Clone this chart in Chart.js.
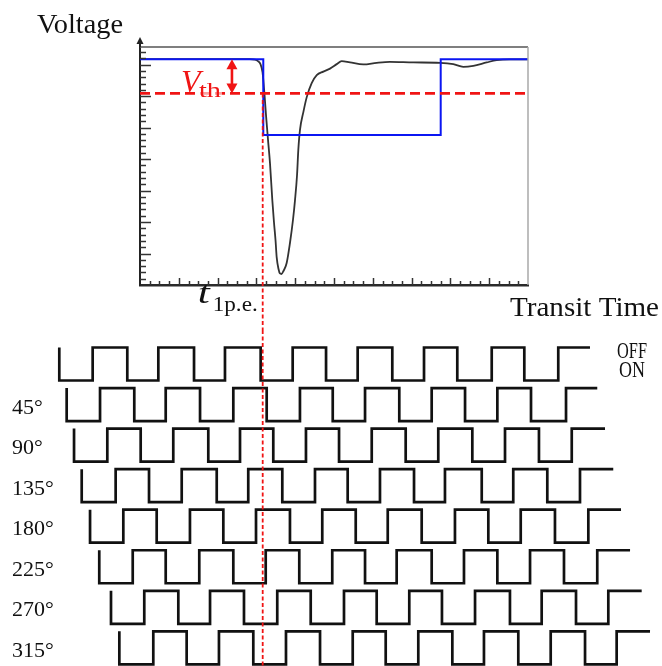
<!DOCTYPE html>
<html>
<head>
<meta charset="utf-8">
<script src="https://cdn.jsdelivr.net/npm/chart.js@4.4.1/dist/chart.umd.min.js"></script>
<style>
  html, body { margin: 0; padding: 0; background: #fff; }
  #wrap { position: relative; width: 662px; height: 666px; overflow: hidden; }
  #pulse { position: absolute; left: 0; top: 0; }
  #waves { position: absolute; left: 0; top: 330px; }
</style>
</head>
<body>
<div id="wrap">
  <canvas id="pulse" width="662" height="330"></canvas>
  <canvas id="waves" width="662" height="336"></canvas>
</div>
<script>
// ---------- Upper panel: single photo-electron pulse vs. transit time ----------
const T_MIN = 0, T_MAX = 40;          // transit-time axis (one minor tick per unit)
const V_MIN = 0, V_MAX = 37.8;        // voltage axis (one minor tick per unit)

const signalTime = [0, 11.34, 11.86, 12.16, 12.42, 12.63, 12.73, 12.84, 12.99, 13.20, 13.40, 13.64, 13.81, 13.97, 14.09, 14.28, 14.43, 14.59, 14.79, 15.12, 15.46, 15.77, 15.98, 16.19, 16.32, 16.49, 16.84, 17.19, 17.70, 18.22, 18.90, 19.59, 20.28, 20.79, 21.65, 23.02, 24.40, 25.77, 28.18, 30.93, 32.30, 33.33, 34.36, 35.74, 36.77, 38.14, 40.0];
const signalVolt = [35.87, 35.87, 35.79, 35.56, 35.08, 33.81, 32.22, 30.16, 26.98, 23.02, 19.37, 13.49, 10.0, 7.14, 4.44, 2.54, 1.83, 1.75, 2.22, 3.49, 6.67, 10.32, 13.49, 17.46, 21.43, 24.60, 27.46, 29.84, 32.06, 33.33, 33.89, 34.37, 35.08, 35.56, 35.35, 35.03, 35.29, 35.44, 35.35, 35.29, 35.08, 34.65, 34.81, 35.35, 35.71, 35.83, 35.83];

const gateTime = [0, 12.71, 12.71, 31.0, 31.0, 40];
const gateVolt = [35.87, 35.87, 23.81, 23.81, 35.87, 35.87];

const V_BASE = 35.87;   // baseline level
const V_TH = 30.43;     // discriminator threshold
const T_1PE = 12.65;    // threshold crossing time t_1p.e.
const T_ARROW = 9.48;   // where the V_th span arrow sits

// ---------- Lower panel: gating square waves at phase offsets ----------
const phaseLabels = ['', '45°', '90°', '135°', '180°', '225°', '270°', '315°'];
const levelLabels = ['OFF', 'ON'];
const waveStart = [-8.32, -7.56, -6.80, -6.01, -5.15, -4.20, -2.99, -2.13];
const waveEnd   = [46.39, 47.14, 47.94, 48.79, 49.59, 50.52, 51.72, 52.58];
const waveEdges = [
  [-4.88, -1.31, 1.89, 5.57, 8.76, 12.44, 15.74, 19.18, 22.44, 26.01, 29.28, 32.71, 36.26, 39.62, 43.12],
  [-4.12, -0.59, 2.65, 6.19, 9.62, 13.06, 16.49, 19.87, 23.20, 26.73, 30.07, 33.51, 36.84, 40.31, 43.92],
  [-3.37, 0.07, 3.43, 7.04, 10.31, 13.74, 17.11, 20.52, 23.89, 27.39, 30.75, 34.26, 37.63, 41.13, 44.51],
  [-2.51, 0.93, 4.30, 7.91, 11.16, 14.67, 18.04, 21.41, 24.74, 28.25, 31.44, 35.23, 38.48, 41.99, 45.36],
  [-1.72, 1.72, 5.15, 8.59, 11.96, 15.46, 18.79, 22.24, 25.54, 29.04, 32.47, 35.91, 39.25, 42.78, 46.22],
  [-0.75, 2.65, 6.11, 9.62, 12.96, 16.42, 19.82, 23.20, 26.46, 30.07, 33.40, 36.84, 40.21, 43.71, 47.14],
  [0.44, 3.95, 7.22, 10.72, 14.15, 17.60, 21.03, 24.40, 27.76, 31.13, 34.54, 38.14, 41.41, 44.95, 48.28],
  [1.37, 4.81, 8.14, 11.68, 15.05, 18.56, 21.93, 25.33, 28.69, 32.20, 35.46, 39.00, 42.34, 45.88, 49.14]
];
const WAVE_HIGH = 0.814;  // OFF level above each row's ON level (row i sits at -i)

// ---------- layout ----------
const W = 662;
const PLOT = { left: 140, top: 47, right: 528, bottom: 285 };
const TOP_H = 330, BOTTOM_H = 336;
const pxPerT = (PLOT.right - PLOT.left) / (T_MAX - T_MIN);
const WAVE_X_MIN = T_MIN - PLOT.left / pxPerT;
const WAVE_X_MAX = T_MAX + (W - PLOT.right) / pxPerT;
const WAVE_Y_MIN = -7.041, WAVE_Y_MAX = 1.245;

const RED = '#f01414';
const BLUE = '#0b16f2';
const SERIF = '"Liberation Serif", "DejaVu Serif", serif';

function drawText(ctx, str, x, y, font, color, width, align) {
  ctx.save();
  ctx.font = font;
  ctx.fillStyle = color;
  ctx.textBaseline = 'alphabetic';
  const w = ctx.measureText(str).width;
  const target = width || w;
  let left = x;
  if (align === 'center') left = x - target / 2;
  else if (align === 'right') left = x - target;
  ctx.translate(left, y);
  ctx.scale(target / w, 1);
  ctx.fillText(str, 0, 0);
  ctx.restore();
}

function toPoints(xs, ys) { return xs.map((x, i) => ({ x, y: ys[i] })); }

function squarePath(i) {
  const low = -i, high = -i + WAVE_HIGH;
  const pts = [{ x: waveStart[i], y: high }, { x: waveStart[i], y: low }];
  let level = low;
  for (const e of waveEdges[i]) {
    pts.push({ x: e, y: level });
    level = level === low ? high : low;
    pts.push({ x: e, y: level });
  }
  pts.push({ x: waveEnd[i], y: level });
  return pts;
}

// frame, axis arrow and inward tick marks of the pulse plot
const axisDecor = {
  id: 'axisDecor',
  afterDraw(chart) {
    const { ctx, chartArea: a, scales: { x, y } } = chart;
    ctx.save();
    // top and right frame lines
    ctx.lineWidth = 1.5;
    ctx.strokeStyle = '#555';
    ctx.beginPath(); ctx.moveTo(a.left, a.top); ctx.lineTo(a.right, a.top); ctx.stroke();
    ctx.strokeStyle = '#a8a8a8';
    ctx.beginPath(); ctx.moveTo(a.right, a.top); ctx.lineTo(a.right, a.bottom); ctx.stroke();
    // vertical axis extended with an arrow head
    ctx.strokeStyle = '#222';
    ctx.lineWidth = 2;
    ctx.beginPath(); ctx.moveTo(a.left, a.top); ctx.lineTo(a.left, a.top - 4); ctx.stroke();
    ctx.fillStyle = '#222';
    ctx.beginPath();
    ctx.moveTo(a.left, a.top - 10);
    ctx.lineTo(a.left - 3.5, a.top - 3);
    ctx.lineTo(a.left + 3.5, a.top - 3);
    ctx.closePath(); ctx.fill();
    // tick marks pointing into the plot
    ctx.strokeStyle = '#333';
    ctx.lineWidth = 1.5;
    for (let v = Math.ceil(x.min); v <= x.max; v++) {
      if (v === x.min || v === x.max) continue;
      const px = Math.round(x.getPixelForValue(v)) + 0.5;
      const len = v % 4 === 0 ? 7 : 4;
      ctx.beginPath(); ctx.moveTo(px, a.bottom); ctx.lineTo(px, a.bottom - len); ctx.stroke();
    }
    for (let v = Math.ceil(y.min); v <= y.max; v++) {
      if (v === y.min) continue;
      const py = Math.round(y.getPixelForValue(v)) + 0.5;
      const len = v % 5 === 0 ? 11 : 6;
      ctx.beginPath(); ctx.moveTo(a.left, py); ctx.lineTo(a.left + len, py); ctx.stroke();
    }
    ctx.restore();
  }
};

// dotted marker at t_1p.e.; in the pulse plot it starts at the threshold
function markerPlugin(fromThreshold) {
  return {
    id: 'marker',
    afterDatasetsDraw(chart) {
      const { ctx, scales: { x, y } } = chart;
      const px = x.getPixelForValue(T_1PE);
      const y0 = fromThreshold ? y.getPixelForValue(V_TH) : 0;
      ctx.save();
      ctx.strokeStyle = RED;
      ctx.lineWidth = 1.8;
      ctx.setLineDash([4, 2.5]);
      ctx.beginPath(); ctx.moveTo(px, y0); ctx.lineTo(px, chart.height); ctx.stroke();
      ctx.restore();
    }
  };
}

// V_th span arrow and text of the pulse plot
const pulseLabels = {
  id: 'pulseLabels',
  afterDraw(chart) {
    const { ctx, scales: { x, y } } = chart;
    const ax = x.getPixelForValue(T_ARROW);
    const yTop = y.getPixelForValue(V_BASE);
    const yBot = y.getPixelForValue(V_TH);
    ctx.save();
    // soft backing behind the subscript, fading the dashed threshold under it
    ctx.fillStyle = 'rgba(255,255,255,0.6)';
    ctx.fillRect(ax - 34, yBot - 11, 24, 15);
    ctx.strokeStyle = RED; ctx.fillStyle = RED; ctx.lineWidth = 2.6;
    ctx.beginPath(); ctx.moveTo(ax, yTop + 8); ctx.lineTo(ax, yBot - 8); ctx.stroke();
    ctx.beginPath(); ctx.moveTo(ax, yTop); ctx.lineTo(ax - 5.5, yTop + 10); ctx.lineTo(ax + 5.5, yTop + 10); ctx.closePath(); ctx.fill();
    ctx.beginPath(); ctx.moveTo(ax, yBot); ctx.lineTo(ax - 5.5, yBot - 10); ctx.lineTo(ax + 5.5, yBot - 10); ctx.closePath(); ctx.fill();
    ctx.restore();

    drawText(ctx, 'V', ax - 51, yBot - 1, 'italic 32px ' + SERIF, RED);
    drawText(ctx, 'th', ax - 33, yBot + 4, '22px ' + SERIF, RED, 22);

    const tx = x.getPixelForValue(T_1PE);
    drawText(ctx, 't', tx - 65, 303, 'italic 32px ' + SERIF, '#111', 12);
    drawText(ctx, '1p.e.', tx - 50, 311, '21px ' + SERIF, '#111', 45);

    drawText(ctx, 'Voltage', 37, 32.5, '27px ' + SERIF, '#111', 86);
    drawText(ctx, 'Transit Time', 510, 316, '27px ' + SERIF, '#111', 149);
  }
};

// phase and level labels of the square waves
const waveLabels = {
  id: 'waveLabels',
  afterDraw(chart) {
    const { ctx, scales: { x, y } } = chart;
    phaseLabels.forEach((lab, i) => {
      if (!lab) return;
      const mid = y.getPixelForValue(-i + WAVE_HIGH / 2);
      drawText(ctx, lab, 12, mid + 9, '22px ' + SERIF, '#111');
    });
    const lx = x.getPixelForValue(waveEnd[0]) + 42;
    drawText(ctx, levelLabels[0], lx, y.getPixelForValue(WAVE_HIGH) + 11, '23px ' + SERIF, '#111', 30, 'center');
    drawText(ctx, levelLabels[1], lx, y.getPixelForValue(0) - 3.5, '23px ' + SERIF, '#111', 26, 'center');
  }
};

const common = {
  responsive: false,
  animation: false,
  devicePixelRatio: 1,
  events: [],
  plugins: { legend: { display: false }, tooltip: { enabled: false } }
};

new Chart(document.getElementById('pulse'), {
  type: 'scatter',
  data: {
    datasets: [
      { label: 'Threshold', data: [{ x: T_MIN, y: V_TH }, { x: T_MAX, y: V_TH }], showLine: true,
        borderColor: RED, borderWidth: 2.6, borderDash: [10, 5], pointRadius: 0 },
      { label: 'Gate', data: toPoints(gateTime, gateVolt), showLine: true,
        borderColor: BLUE, borderWidth: 2, pointRadius: 0, tension: 0, borderJoinStyle: 'miter' },
      { label: 'Signal', data: toPoints(signalTime, signalVolt), showLine: true,
        borderColor: '#333', borderWidth: 1.8, pointRadius: 0, cubicInterpolationMode: 'monotone' }
    ]
  },
  options: {
    ...common,
    layout: { padding: { left: PLOT.left, top: PLOT.top, right: W - PLOT.right, bottom: TOP_H - PLOT.bottom } },
    scales: {
      x: { type: 'linear', min: T_MIN, max: T_MAX,
           grid: { display: false, drawTicks: false },
           border: { display: true, color: '#2a2a2a', width: 2.5 },
           ticks: { display: false, stepSize: 1 } },
      y: { type: 'linear', min: V_MIN, max: V_MAX,
           grid: { display: false, drawTicks: false },
           border: { display: true, color: '#222', width: 2 },
           ticks: { display: false, stepSize: 1 } }
    }
  },
  plugins: [axisDecor, markerPlugin(true), pulseLabels]
});

new Chart(document.getElementById('waves'), {
  type: 'scatter',
  data: {
    datasets: waveEdges.map((_, i) => ({
      label: phaseLabels[i] || 'reference',
      data: squarePath(i),
      showLine: true,
      borderColor: '#111',
      borderWidth: 2.7,
      pointRadius: 0,
      tension: 0,
      clip: false,
      borderJoinStyle: 'miter',
      borderCapStyle: 'butt'
    }))
  },
  options: {
    ...common,
    layout: { padding: 0 },
    scales: {
      x: { type: 'linear', display: false, min: WAVE_X_MIN, max: WAVE_X_MAX },
      y: { type: 'linear', display: false, min: WAVE_Y_MIN, max: WAVE_Y_MAX }
    }
  },
  plugins: [markerPlugin(false), waveLabels]
});
</script>
</body>
</html>
